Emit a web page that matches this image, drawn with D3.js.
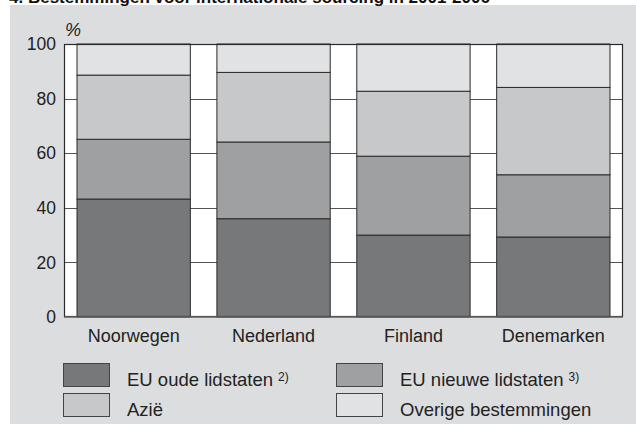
<!DOCTYPE html>
<html><head><meta charset="utf-8">
<script src="https://cdn.jsdelivr.net/npm/d3@7"></script>
<style>body{margin:0;background:#fff}svg{display:block;font-family:"Liberation Sans",Arial,sans-serif}</style>
</head><body><svg id="c" width="636" height="424"></svg>
<script>
const categories = ["Noorwegen","Nederland","Finland","Denemarken"];
const seriesNames = ["EU oude lidstaten","EU nieuwe lidstaten","Azië","Overige bestemmingen"];
const euOud = [43.2, 36.0, 30.0, 29.3];
const euNieuw = [21.9, 28.1, 28.9, 22.8];
const azie = [23.5, 25.5, 23.8, 32.0];
const overig = [11.4, 10.4, 17.3, 15.9];
const yTicks = [0,20,40,60,80,100];
const legendNotes = ["2)","3)","",""];
const colors = ["#77787a","#9fa0a2","#c7c8ca","#e1e2e4"];

const svg = d3.select("#c");
svg.append("rect").attr("x",10).attr("y",5).attr("width",626).attr("height",419).attr("fill","#dcdddf");
svg.append("text").attr("x",9).attr("y",3).attr("font-size",17).attr("font-weight","bold").attr("fill","#111")
  .text("4. Bestemmingen voor internationale sourcing in 2001-2006");

const L=64,R=623,T=44,B=317;
const x = d3.scaleBand().domain(categories).range([L,R]).paddingInner(0.19).paddingOuter(0.093);
const y = d3.scaleLinear().domain([0,100]).range([B,T]);

svg.append("rect").attr("x",L).attr("y",T).attr("width",R-L).attr("height",B-T).attr("fill","#fff");
svg.append("g").selectAll("line").data(yTicks.filter(t=>t>0&&t<100)).join("line")
  .attr("x1",L).attr("x2",R).attr("y1",d=>Math.round(y(d))+0.5).attr("y2",d=>Math.round(y(d))+0.5)
  .attr("stroke","#555").attr("stroke-width",1);

const rows = categories.map((c,i)=>({cat:c, s0:euOud[i], s1:euNieuw[i], s2:azie[i], s3:overig[i]}));
const stack = d3.stack().keys(["s0","s1","s2","s3"])(rows);
svg.append("g").selectAll("g").data(stack).join("g").attr("fill",(d,i)=>colors[i])
  .selectAll("rect").data(d=>d).join("rect")
  .attr("x",d=>x(d.data.cat)).attr("width",x.bandwidth())
  .attr("y",d=>y(Math.min(100,d[1]))).attr("height",d=>y(d[0])-y(Math.min(100,d[1])))
  .attr("stroke","#2a2a2a").attr("stroke-width",1);

svg.append("rect").attr("x",L+0.5).attr("y",T+0.5).attr("width",R-L-1).attr("height",B-T-1)
  .attr("fill","none").attr("stroke","#2a2a2a").attr("stroke-width",1.2);
svg.append("line").attr("x1",L).attr("x2",R).attr("y1",B).attr("y2",B).attr("stroke","#666").attr("stroke-width",1.5);

const yAxis = svg.append("g").attr("transform",`translate(${L},0)`)
  .call(d3.axisLeft(y).tickValues(yTicks).tickSize(0).tickPadding(8));
yAxis.select(".domain").remove();
yAxis.selectAll("text").attr("font-size",17.5).attr("fill","#222").attr("font-family","Liberation Sans, Arial, sans-serif");

svg.append("text").attr("x",65).attr("y",36).attr("font-size",18).attr("font-style","italic").attr("fill","#222").text("%");

const xAxis = svg.append("g").attr("transform",`translate(0,${B})`)
  .call(d3.axisBottom(x).tickSize(0).tickPadding(12));
xAxis.select(".domain").remove();
xAxis.selectAll("text").attr("font-size",18).attr("fill","#222").attr("font-family","Liberation Sans, Arial, sans-serif");

const legPos = [[63,363],[336,363],[63,393],[336,393]];
seriesNames.forEach((n,i)=>{
  const [lx,ly]=legPos[i];
  svg.append("rect").attr("x",lx+0.5).attr("y",ly+0.5).attr("width",46).attr("height",23)
    .attr("fill",colors[i]).attr("stroke","#444").attr("stroke-width",1);
  const t = svg.append("text").attr("x",lx+64).attr("y",ly+23).attr("font-size",18.5).attr("fill","#222").text(n);
  if(legendNotes[i]) t.append("tspan").attr("dx",5).attr("dy",-5).attr("font-size",12).text(legendNotes[i]);
});
</script></body></html>
